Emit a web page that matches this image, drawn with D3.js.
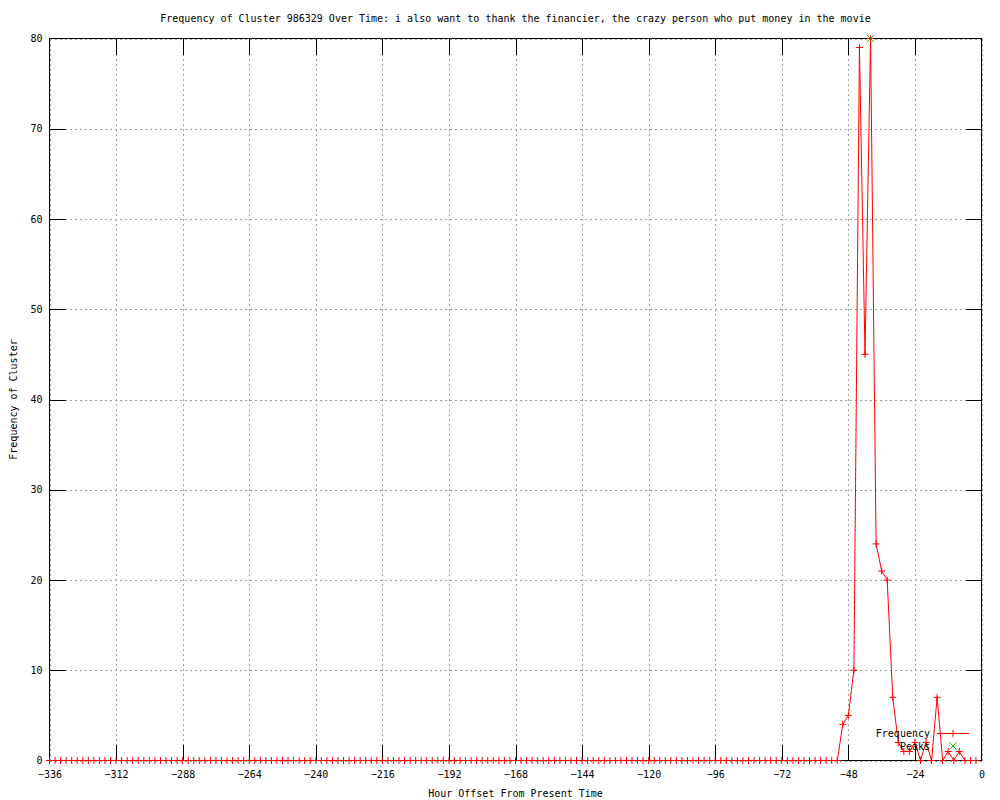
<!DOCTYPE html>
<html>
<head>
<meta charset="utf-8">
<script src="https://cdn.jsdelivr.net/npm/d3@7"></script>
<style>
  body { margin: 0; background: #fff; }
  text { font-family: "DejaVu Sans Mono", monospace; font-size: 10px; fill: #000; }
</style>
</head>
<body>
<div id="chart"></div>
<script>
// hour offsets (every 2 hours) and cluster frequency
const hours = [
  -336, -334, -332, -330, -328, -326, -324, -322, -320, -318, -316, -314, -312, -310, -308, -306,
  -304, -302, -300, -298, -296, -294, -292, -290, -288, -286, -284, -282, -280, -278, -276, -274,
  -272, -270, -268, -266, -264, -262, -260, -258, -256, -254, -252, -250, -248, -246, -244, -242,
  -240, -238, -236, -234, -232, -230, -228, -226, -224, -222, -220, -218, -216, -214, -212, -210,
  -208, -206, -204, -202, -200, -198, -196, -194, -192, -190, -188, -186, -184, -182, -180, -178,
  -176, -174, -172, -170, -168, -166, -164, -162, -160, -158, -156, -154, -152, -150, -148, -146,
  -144, -142, -140, -138, -136, -134, -132, -130, -128, -126, -124, -122, -120, -118, -116, -114,
  -112, -110, -108, -106, -104, -102, -100, -98, -96, -94, -92, -90, -88, -86, -84, -82,
  -80, -78, -76, -74, -72, -70, -68, -66, -64, -62, -60, -58, -56, -54, -52, -50,
  -48, -46, -44, -42, -40, -38, -36, -34, -32, -30, -28, -26, -24, -22, -20, -18,
  -16, -14, -12, -10, -8, -6, -4, -2
];
const freq = [
  0, 0, 0, 0, 0, 0, 0, 0, 0, 0, 0, 0, 0, 0, 0, 0,
  0, 0, 0, 0, 0, 0, 0, 0, 0, 0, 0, 0, 0, 0, 0, 0,
  0, 0, 0, 0, 0, 0, 0, 0, 0, 0, 0, 0, 0, 0, 0, 0,
  0, 0, 0, 0, 0, 0, 0, 0, 0, 0, 0, 0, 0, 0, 0, 0,
  0, 0, 0, 0, 0, 0, 0, 0, 0, 0, 0, 0, 0, 0, 0, 0,
  0, 0, 0, 0, 0, 0, 0, 0, 0, 0, 0, 0, 0, 0, 0, 0,
  0, 0, 0, 0, 0, 0, 0, 0, 0, 0, 0, 0, 0, 0, 0, 0,
  0, 0, 0, 0, 0, 0, 0, 0, 0, 0, 0, 0, 0, 0, 0, 0,
  0, 0, 0, 0, 0, 0, 0, 0, 0, 0, 0, 0, 0, 0, 0, 4,
  5, 10, 79, 45, 80, 24, 21, 20, 7, 2, 1, 1, 2, 0, 2, 0,
  7, 0, 1, 0, 1, 0, 0, 0
];
const peakHours = [-40];
const peakValues = [80];
const xTicks = [-336, -312, -288, -264, -240, -216, -192, -168, -144, -120, -96, -72, -48, -24, 0];
const yTicks = [0, 10, 20, 30, 40, 50, 60, 70, 80];

const W = 1000, H = 800;
const plotL = 49.5, plotR = 981.5, plotT = 38.5, plotB = 760.5;

const svg = d3.select("#chart").append("svg")
    .attr("width", W)
    .attr("height", H);

const x = d3.scaleLinear().domain([-336, 0]).range([plotL, plotR]);
const y = d3.scaleLinear().domain([0, 80]).range([plotB, plotT]);

// grid
const gridX = svg.append("g")
    .attr("transform", `translate(0,${plotB})`)
    .call(d3.axisBottom(x).tickValues(xTicks).tickSize(-(plotB - plotT)).tickFormat(""));
const gridY = svg.append("g")
    .attr("transform", `translate(${plotL},0)`)
    .call(d3.axisLeft(y).tickValues(yTicks).tickSize(-(plotR - plotL)).tickFormat(""));
[gridX, gridY].forEach(g => {
    g.select(".domain").remove();
    g.selectAll("line")
        .attr("stroke", "#a0a0a0")
        .attr("stroke-dasharray", "2,3")
        .attr("shape-rendering", "crispEdges");
});

// axes with inward ticks
const tl = 16;
const xAxis = svg.append("g")
    .attr("transform", `translate(0,${plotB})`)
    .call(d3.axisBottom(x).tickValues(xTicks).tickSize(-tl).tickPadding(10).tickFormat(d3.format("d")));
const xAxisTop = svg.append("g")
    .attr("transform", `translate(0,${plotT})`)
    .call(d3.axisTop(x).tickValues(xTicks).tickSize(-tl).tickFormat(""));
const yAxis = svg.append("g")
    .attr("transform", `translate(${plotL},0)`)
    .call(d3.axisLeft(y).tickValues(yTicks).tickSize(-tl).tickPadding(7));
const yAxisRight = svg.append("g")
    .attr("transform", `translate(${plotR},0)`)
    .call(d3.axisRight(y).tickValues(yTicks).tickSize(-tl).tickFormat(""));
[xAxis, xAxisTop, yAxis, yAxisRight].forEach(g => {
    g.select(".domain").remove();
    g.selectAll("line").attr("stroke", "#000").attr("shape-rendering", "crispEdges");
    g.selectAll("text")
        .style("font-family", "'DejaVu Sans Mono', monospace")
        .style("font-size", "10px")
        .attr("fill", "#000");
});
xAxis.selectAll(".tick line").filter(d => d === -336 || d === 0).remove();
xAxisTop.selectAll(".tick line").filter(d => d === -336 || d === 0).remove();
yAxis.selectAll(".tick line").filter(d => d === 0 || d === 80).remove();
yAxisRight.selectAll(".tick line").filter(d => d === 0 || d === 80).remove();

// frame
svg.append("rect")
    .attr("x", plotL).attr("y", plotT)
    .attr("width", plotR - plotL).attr("height", plotB - plotT)
    .attr("fill", "none").attr("stroke", "#000")
    .attr("shape-rendering", "crispEdges");

// frequency line
const line = d3.line()
    .x((d, i) => x(hours[i]))
    .y(d => y(d));

svg.append("path")
    .datum(freq)
    .attr("fill", "none")
    .attr("stroke", "#ff0000")
    .attr("stroke-width", 1)
    .attr("d", line);

const ps = 3.5;
function plus(g, cx, cy, color) {
    g.append("path")
        .attr("d", `M${cx - ps},${cy}H${cx + ps}M${cx},${cy - ps}V${cy + ps}`)
        .attr("stroke", color).attr("stroke-width", 1).attr("fill", "none");
}
function cross(g, cx, cy, color) {
    g.append("path")
        .attr("d", `M${cx - ps},${cy - ps}L${cx + ps},${cy + ps}M${cx - ps},${cy + ps}L${cx + ps},${cy - ps}`)
        .attr("stroke", color).attr("stroke-width", 1).attr("fill", "none");
}

const marks = svg.append("g");
freq.forEach((d, i) => plus(marks, x(hours[i]), y(d), "#ff0000"));
peakValues.forEach((d, i) => cross(marks, x(peakHours[i]), y(d), "#00c000"));

// legend
svg.append("text").attr("x", 930).attr("y", 737).attr("text-anchor", "end").text("Frequency");
svg.append("line")
    .attr("x1", 937).attr("x2", 969).attr("y1", 733.5).attr("y2", 733.5)
    .attr("stroke", "#ff0000");
plus(svg, 953, 733.5, "#ff0000");
svg.append("text").attr("x", 930).attr("y", 750).attr("text-anchor", "end").text("Peaks");
cross(svg, 953, 746, "#00c000");

// titles
svg.append("text")
    .attr("x", (plotL + plotR) / 2).attr("y", 22)
    .attr("text-anchor", "middle")
    .text("Frequency of Cluster 986329 Over Time: i also want to thank the financier, the crazy person who put money in the movie");
svg.append("text")
    .attr("x", (plotL + plotR) / 2).attr("y", 797)
    .attr("text-anchor", "middle")
    .text("Hour Offset From Present Time");
svg.append("text")
    .attr("transform", `translate(17,${(plotT + plotB) / 2}) rotate(-90)`)
    .attr("text-anchor", "middle")
    .text("Frequency of Cluster");
</script>
</body>
</html>
